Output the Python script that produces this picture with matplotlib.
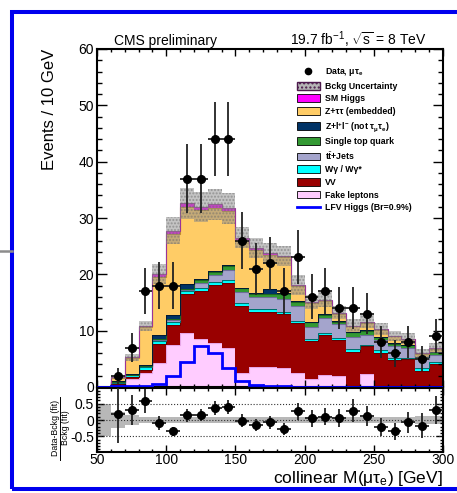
import numpy as np
import matplotlib
matplotlib.use("Agg")
import matplotlib.pyplot as plt
from matplotlib.patches import Patch, Rectangle
from matplotlib.lines import Line2D
from matplotlib.ticker import MultipleLocator

plt.rcParams['font.family'] = ['Liberation Sans', 'DejaVu Sans']
plt.rcParams['axes.unicode_minus'] = False
plt.rcParams['mathtext.fontset'] = 'custom'
plt.rcParams['mathtext.rm'] = 'Liberation Sans'
plt.rcParams['mathtext.it'] = 'Liberation Sans:italic'
plt.rcParams['mathtext.bf'] = 'Liberation Sans:bold'

edges = np.arange(50, 310, 10)

# expected yields per 10 GeV bin, 50-60 ... 290-300, stacked bottom -> top
fake    = [0, 0.2, 1.4, 2.4, 4.3, 7.5, 9.5, 8.5, 7.8, 6.9, 2.4, 3.6, 3.5, 3.4, 2.5, 1.4, 2.1, 2.0, 0.2, 2.3, 0.2, 0.1, 0.1, 0.1, 0.1]
vv      = [0, 0.3, 0.4, 0.6, 3.4, 3.5, 7.0, 8.6, 10.3, 11.6, 11.9, 9.7, 9.9, 9.6, 8.8, 6.8, 7.1, 6.3, 6.1, 4.9, 5.9, 4.7, 4.8, 2.8, 3.9]
wgamma  = [0, 0.15, 0.25, 0.55, 0.4, 0.6, 0.6, 0.4, 0.6, 0.5, 0.6, 0.5, 0.4, 0.4, 0.5, 0.4, 0.4, 0.4, 0.5, 0.3, 0.4, 0.4, 0.3, 0.4, 0.4]
ttbar   = [0, 0.2, 0.1, 0.15, 0.2, 0.3, 0.2, 1.0, 1.2, 1.8, 2.0, 2.1, 2.1, 2.3, 2.6, 2.1, 2.6, 2.4, 2.1, 1.7, 1.8, 2.0, 1.7, 1.7, 1.3]
stop    = [0, 0.1, 0.05, 0.1, 0.15, 0.1, 0.1, 0.5, 0.6, 0.7, 0.6, 0.6, 0.6, 0.8, 0.7, 0.8, 0.6, 0.5, 0.8, 0.8, 0.5, 0.5, 0.5, 0.3, 0.5]
zll     = [0, 0.05, 0.05, 0.1, 0.75, 0.8, 0.8, 0.1, 0.1, 0.1, 0.1, 0.1, 0.9, 0.1, 0.1, 0.1, 0.1, 0.05, 0.1, 0.1, 0.1, 0.05, 0.05, 0.05, 0.05]
ztautau = [0, 0.65, 2.95, 6.7, 10.4, 14.3, 13.8, 12.3, 11.2, 9.6, 8.4, 7.7, 6.0, 6.4, 2.7, 3.3, 2.4, 1.35, 1.0, 1.3, 1.2, 1.25, 1.05, 0.55, 0.55]
smhiggs = [0, 0.05, 0.1, 0.2, 0.4, 0.6, 0.6, 0.6, 0.6, 0.5, 0.5, 0.4, 0.3, 0.3, 0.2, 0.2, 0.2, 0.2, 0.1, 0.2, 0.2, 0.1, 0.1, 0.1, 0.1]
bkg_unc = [0, 0.3, 0.6, 0.9, 1.8, 2.4, 2.7, 2.7, 2.7, 2.7, 1.9, 1.8, 1.9, 1.8, 1.8, 1.2, 1.3, 1.2, 1.1, 1.2, 1.0, 0.9, 0.9, 0.8, 0.9]
lfv     = [0, 0.1, 0.1, 0.1, 0.5, 1.95, 4.5, 7.3, 6.0, 3.3, 1.1, 0.35, 0.1, 0.1, 0.05, 0.05, 0.05, 0, 0, 0, 0, 0, 0, 0, 0]

# observed events, bins 60-70 ... 290-300
data     = [2, 7, 17, 18, 18, 37, 37, 44, 44, 26, 21, 22, 17, 23, 16, 17, 14, 14, 13, 8, 6, 8, 5, 9]
data_err = [1.4, 2.6, 4.1, 4.2, 4.2, 6.1, 6.1, 6.6, 6.6, 5.1, 4.6, 4.7, 4.1, 4.8, 4.0, 4.1, 3.7, 3.7, 3.6, 2.8, 2.4, 2.8, 2.2, 3.0]

# (data - bkg) / bkg
ratio      = [0.19, 0.31, 0.57, -0.10, -0.35, 0.14, 0.16, 0.36, 0.39, -0.02, -0.15, -0.07, -0.27, 0.27,
              0.06, 0.10, 0.06, 0.29, 0.12, -0.22, -0.34, -0.07, -0.17, 0.31]
ratio_err  = [0.9, 0.47, 0.37, 0.21, 0.15, 0.19, 0.19, 0.21, 0.21, 0.19, 0.19, 0.2, 0.18, 0.26,
              0.26, 0.26, 0.28, 0.34, 0.31, 0.27, 0.26, 0.33, 0.37, 0.44]
ratio_band = [0.5, 0.25, 0.14, 0.1, 0.09, 0.09, 0.08, 0.08, 0.08, 0.08, 0.08, 0.08, 0.08, 0.08,
              0.09, 0.08, 0.08, 0.09, 0.1, 0.09, 0.1, 0.1, 0.1, 0.12, 0.12]

layers = [
    (fake,    '#FFCCFF', '#E7A6E7'),
    (vv,      '#990000', '#660000'),
    (wgamma,  '#00FFFF', '#007070'),
    (ttbar,   '#A4A4CC', '#6E6E99'),
    (stop,    '#339933', '#1F661F'),
    (zll,     '#003366', '#001A33'),
    (ztautau, '#FFCC66', '#C08A30'),
    (smhiggs, '#FF00FF', '#993399'),
]

centers = edges[1:-1] + 5

fig = plt.figure(figsize=(4.57, 4.93), dpi=100)
ax = fig.add_axes([97/457, 1 - 387/493, 346/457, 338/493])
axr = fig.add_axes([97/457, 1 - 452/493, 346/457, 64/493])

bottom = np.zeros(len(fake))
for vals, face, edge in layers:
    top = bottom + np.array(vals)
    ax.stairs(top, edges, baseline=bottom, fill=True, color=face, lw=0)
    ax.stairs(top, edges, color=edge, lw=0.8)
    bottom = top
total = bottom
unc = np.array(bkg_unc)
ax.stairs(total + unc, edges, baseline=total - unc, fill=True,
          facecolor='#8a8a8a', edgecolor='#6a6a6a', hatch='.....', alpha=0.5, lw=0)

ax.stairs(lfv, edges, color='#0000FF', lw=2.0, zorder=5)
ax.errorbar(centers, data, yerr=data_err, xerr=5, fmt='o', color='black',
            ecolor='#222222', ms=5.5, elinewidth=1.3, capsize=0, zorder=6)

ax.set_xlim(50, 300)
ax.set_ylim(0, 60)
ax.set_yticks(range(0, 61, 10))
ax.yaxis.set_minor_locator(MultipleLocator(2))
ax.set_xticks(range(50, 301, 50))
ax.xaxis.set_minor_locator(MultipleLocator(10))
ax.tick_params(which='both', direction='in', top=True, right=True, labelbottom=False,
               labelsize=10, pad=2, width=1)
ax.tick_params(axis='y', which='major', length=7)
ax.tick_params(axis='y', which='minor', length=3.5)
ax.tick_params(axis='x', which='major', length=5)
ax.tick_params(axis='x', which='minor', length=2.5)
for s in ax.spines.values():
    s.set_linewidth(1.5)

# ratio panel
band = np.array(ratio_band)
axr.stairs(band, edges, baseline=-band, fill=True, color='#a0a0a0', alpha=0.75, lw=0)
for yl in (0.5, 0, -0.5):
    axr.axhline(yl, ls=':', color='#333333', lw=0.8)
axr.errorbar(centers, ratio, yerr=ratio_err, xerr=5, fmt='o', color='black',
             ecolor='#222222', ms=5.5, elinewidth=1.3, capsize=0, zorder=6)
axr.set_xlim(50, 300)
axr.set_ylim(-0.98, 0.98)
axr.set_yticks([-0.5, 0, 0.5])
axr.set_yticklabels(['-0.5', '0', '0.5'])
axr.yaxis.set_minor_locator(MultipleLocator(0.1))
axr.set_xticks(range(50, 301, 50))
axr.xaxis.set_minor_locator(MultipleLocator(10))
axr.tick_params(which='both', direction='in', top=True, right=True, labelsize=10, pad=2, width=1)
axr.tick_params(axis='x', which='both', pad=0.5)
axr.tick_params(axis='y', which='major', length=5)
axr.tick_params(axis='y', which='minor', length=2.5)
axr.tick_params(axis='x', which='major', length=5)
axr.tick_params(axis='x', which='minor', length=2.5)
for s in axr.spines.values():
    s.set_linewidth(1.5)

# labels
fig.text(443/457, 1 - 483/493, r'collinear M(μτ$_{\mathregular{e}}$) [GeV]',
         ha='right', va='baseline', fontsize=12.5)
fig.text(50/457, 1 - 49/493, 'Events / 10 GeV', rotation=90, ha='center', va='top', fontsize=12)
fig.text(55/457, 1 - 428/493, 'Data-Bckg (fit)', rotation=90, ha='center', va='center', fontsize=6.3)
fig.text(65/457, 1 - 428/493, 'Bckg (fit)', rotation=90, ha='center', va='center', fontsize=6.3)
fig.add_artist(Line2D([60/457, 60/457], [1 - 460/493, 1 - 397/493], color='black', lw=0.7))
fig.text(114/457, 1 - 45/493, 'CMS preliminary', ha='left', va='baseline', fontsize=10)
fig.text(426/457, 1 - 45/493, r'19.7 fb$^{\mathregular{-1}}$, $\sqrt{\mathregular{s}}$ = 8 TeV',
         ha='right', va='baseline', fontsize=10)

handles = [
    Line2D([], [], marker='o', ls='none', color='black', ms=4.5),
    Patch(facecolor='#b5b5b5', hatch='....', edgecolor='#4d1a4d', lw=1),
    Patch(facecolor='#FF00FF', edgecolor='black', lw=0.6),
    Patch(facecolor='#FFCC66', edgecolor='black', lw=0.6),
    Patch(facecolor='#003366', edgecolor='black', lw=0.6),
    Patch(facecolor='#339933', edgecolor='black', lw=0.6),
    Patch(facecolor='#A4A4CC', edgecolor='black', lw=0.6),
    Patch(facecolor='#00FFFF', edgecolor='black', lw=0.6),
    Patch(facecolor='#990000', edgecolor='black', lw=0.6),
    Patch(facecolor='#FFCCFF', edgecolor='black', lw=0.6),
    Line2D([], [], color='#0000FF', lw=2),
]
labels = [
    r'Data, μτ$_{\mathregular{e}}$',
    'Bckg Uncertainty',
    'SM Higgs',
    'Z+ττ (embedded)',
    r'Z+l$^{\mathregular{+}}$l$^{\mathregular{-}}$ (not τ$_{\mathregular{μ}}$τ$_{\mathregular{e}}$)',
    'Single top quark',
    r't$\bar{\mathregular{t}}$+Jets',
    'Wγ / Wγ*',
    'VV',
    'Fake leptons',
    'LFV Higgs (Br=0.9%)',
]
fig.legend(handles, labels, loc='upper left', bbox_to_anchor=(297/457, 1 - 66/493),
           frameon=False, prop={'size': 6.3, 'weight': 'bold'}, handlelength=2.6,
           handleheight=1.0, handletextpad=0.6, labelspacing=0.42, borderpad=0,
           borderaxespad=0)

# canvas frame
fig.add_artist(Rectangle((12/457, 1 - 489/493), 1.0, 477/493, transform=fig.transFigure,
                         fill=False, edgecolor='#0000EE', lw=2.9))
fig.add_artist(Line2D([0, 12/457], [1 - 251/493, 1 - 251/493], color='#8c8c8c', lw=1.8))

fig.savefig('out.png', dpi=100)
